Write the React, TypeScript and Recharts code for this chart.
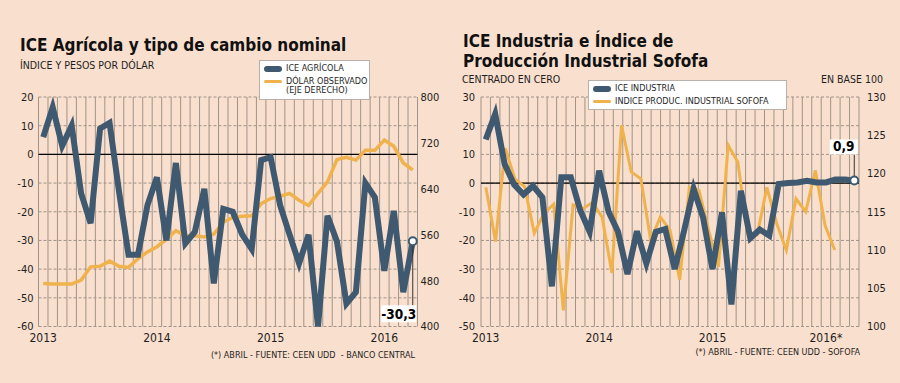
import React from "react";
import {
  LineChart,
  Line,
  XAxis,
  YAxis,
  CartesianGrid,
  ReferenceLine,
  Legend,
} from "recharts";

const BG = "#f9dfcd";
const BLUE = "#3f5a70";
const ORANGE = "#f0b24c";
const GRID = "#a09389";
const INK = "#1e1e1e";
const FONT = "'DejaVu Sans Condensed', 'DejaVu Sans', sans-serif";

// meses: ene 2013 .. abr 2016
const months = [
  "2013-01", "2013-02", "2013-03", "2013-04", "2013-05", "2013-06",
  "2013-07", "2013-08", "2013-09", "2013-10", "2013-11", "2013-12",
  "2014-01", "2014-02", "2014-03", "2014-04", "2014-05", "2014-06",
  "2014-07", "2014-08", "2014-09", "2014-10", "2014-11", "2014-12",
  "2015-01", "2015-02", "2015-03", "2015-04", "2015-05", "2015-06",
  "2015-07", "2015-08", "2015-09", "2015-10", "2015-11", "2015-12",
  "2016-01", "2016-02", "2016-03", "2016-04",
];

const agroYearLabels = ["2013", "2014", "2015", "2016"];
const indYearLabels = ["2013", "2014", "2015", "2016*"];

const agroTicks = [-60, -50, -40, -30, -20, -10, 0, 10, 20];
const dolarTicks = [400, 480, 560, 640, 720, 800];
const indTicks = [-50, -40, -30, -20, -10, 0, 10, 20, 30];
const sofofaTicks = [100, 105, 110, 115, 120, 125, 130];

// ICE Agrícola (eje izq.)
const iceAgricola = [
  6, 16.4, 3, 10, -13.6, -24, 9, 11, -13, -35, -35, -17.7,
  -8, -30, -3, -31, -27, -12, -45, -19, -20, -28, -33, -2,
  -1, -17.7, -28, -38, -28, -60, -21.4, -30.4, -52, -48, -10, -15,
  -40.6, -19.7, -48, -30.3,
];

// Dólar observado (eje der.)
const dolarObservado = [
  475, 474, 474, 474, 481, 504, 505, 514, 505, 503, 518, 530,
  539, 552, 567, 558, 558, 556, 561, 582, 590, 592, 593, 614,
  623, 627, 632, 620, 611, 632, 652, 691, 695, 690, 707, 707,
  725, 714, 685, 673,
];

// ICE Industria (eje izq.)
const iceIndustria = [
  15.2, 24.1, 6.6, -0.5, -4, -1, -5, -36, 2, 2, -9.5, -17,
  4.3, -10, -17, -31.7, -16.8, -28, -17, -16, -30, -16.5, -2, -12,
  -30, -10.2, -42.3, -2.7, -19.2, -16.2, -18.3, -0.3, 0, 0.2, 0.8, 0.2,
  0.2, 1.2, 1.2, 0.9,
];

// Índice de producción industrial Sofofa (eje der., base 100)
const sofofa = [
  118.2, 111.1, 123.3, 119.3, 118.3, 112.2, 114.8, 116, 102.1, 115.9, 115.4, 116.2,
  114.3, 107, 126.3, 120.2, 119.3, 111.3, 114.3, 112.6, 106.1, 118.2, 117.8, 112.5,
  107.8, 123.7, 121.5, 112.2, 112, 118.2, 113.5, 110, 116.7, 115, 120.4, 113.2,
  110,
];

const yearStarts = months
  .map((m, i) => (m.endsWith("-01") ? i : -1))
  .filter((i) => i >= 0);
const monthEdges = [...months.map((_, i) => i - 0.5), months.length - 0.5];

const agroRows = months.map((mes, i) => ({
  i,
  mes,
  ice: iceAgricola[i],
  dolar: dolarObservado[i],
}));
const indRows = months.map((mes, i) => ({ i, mes, ice: iceIndustria[i] }));
const sofofaRows = sofofa.map((v, k) => ({ k, mes: months[k], sofofa: v }));

const tickStyle = { fill: INK, fontSize: 11, fontFamily: FONT };
const yearTickStyle = { fill: INK, fontSize: 12, fontFamily: FONT };

const fmt = (v: number) => String(v).replace(".", ",");

// punto final con etiqueta del último valor
const endDot = (lastIndex: number, below: boolean) => (props: any) => {
  const { cx, cy, index, value } = props;
  if (index !== lastIndex || cx == null || cy == null) return <g key={`d${index}`} />;
  const w = below ? 35 : 28;
  const h = below ? 17 : 15;
  const bx = cx + 3.5 - w;
  const by = below ? cy + 64 : cy - 41;
  return (
    <g key={`d${index}`}>
      <line
        x1={cx}
        x2={cx}
        y1={below ? cy + 4 : by + h}
        y2={below ? by : cy - 4}
        stroke="#333"
        strokeWidth={1}
      />
      <rect x={bx} y={by} width={w} height={h} fill="#fff" />
      <text
        x={bx + w / 2}
        y={by + h - 3.5}
        textAnchor="middle"
        fontFamily={FONT}
        fontWeight="bold"
        fontSize={13.5}
        fill="#000"
      >
        {fmt(value)}
      </text>
      <circle cx={cx} cy={cy} r={4} fill="#fff" stroke={BLUE} strokeWidth={2} />
    </g>
  );
};

const legendContent = (order: string[], rowGap: number) => (props: any) => {
  const items = [...(props.payload || [])].sort(
    (a: any, b: any) => order.indexOf(a.value) - order.indexOf(b.value)
  );
  return (
    <div
      style={{
        background: "#fff",
        border: "1px solid #b9b0aa",
        padding: "3px 4px",
        fontFamily: FONT,
        fontSize: 9,
        color: INK,
        lineHeight: "9.5px",
      }}
    >
      {items.map((it: any, n: number) => {
        const sw = it.payload?.strokeWidth ?? 3;
        return (
          <div
            key={it.value}
            style={{ display: "flex", alignItems: "flex-start", marginTop: n ? rowGap : 0 }}
          >
            <div style={{ width: 22, height: 9.5, position: "relative", flex: "none" }}>
              <div
                style={{
                  position: "absolute",
                  left: 0,
                  width: 18,
                  top: 4.75 - sw / 2,
                  height: sw,
                  borderRadius: sw / 2,
                  background: it.color,
                }}
              />
            </div>
            <div style={{ whiteSpace: "pre" }}>{it.value.replace(" (", "\n(")}</div>
          </div>
        );
      })}
    </div>
  );
};

function AgroChart() {
  return (
    <LineChart
      width={450}
      height={383}
      data={agroRows}
      margin={{ top: 97, right: 0, bottom: 36.5, left: 0 }}
    >
      <CartesianGrid xAxisId="m" yAxisId="l" vertical={false} stroke={GRID} strokeDasharray="3 2" />
      {monthEdges.map((e) => (
        <ReferenceLine key={e} xAxisId="m" yAxisId="l" x={e} stroke={GRID} strokeWidth={1} />
      ))}
      <ReferenceLine xAxisId="m" yAxisId="l" y={0} stroke="#000" strokeWidth={1.2} />
      <XAxis
        xAxisId="m"
        type="number"
        dataKey="i"
        domain={[-0.5, months.length - 0.5]}
        ticks={yearStarts}
        interval={0}
        tickFormatter={(v) => agroYearLabels[yearStarts.indexOf(v)]}
        axisLine={false}
        tickLine={false}
        tickSize={5}
        tickMargin={2}
        height={20}
        tick={yearTickStyle}
      />
      <YAxis
        yAxisId="l"
        domain={[-60, 20]}
        ticks={agroTicks}
        interval={0}
        width={38.5}
        axisLine={false}
        tickLine={false}
        tickSize={3}
        tickMargin={2}
        tick={tickStyle}
      />
      <YAxis
        yAxisId="r"
        orientation="right"
        domain={[400, 800]}
        ticks={dolarTicks}
        interval={0}
        width={32.5}
        axisLine={false}
        tickLine={false}
        tickSize={1}
        tickMargin={2}
        tick={tickStyle}
      />
      <Legend
        layout="vertical"
        align="center"
        verticalAlign="middle"
        wrapperStyle={{ left: 259, top: 60, width: 111 }}
        content={legendContent(["ICE AGRÍCOLA", "DÓLAR OBSERVADO (EJE DERECHO)"], 3)}
      />
      <Line
        xAxisId="m"
        yAxisId="r"
        type="linear"
        dataKey="dolar"
        name="DÓLAR OBSERVADO (EJE DERECHO)"
        stroke={ORANGE}
        strokeWidth={3.5}
        dot={false}
        activeDot={false}
        isAnimationActive={false}
      />
      <Line
        xAxisId="m"
        yAxisId="l"
        type="linear"
        dataKey="ice"
        name="ICE AGRÍCOLA"
        stroke={BLUE}
        strokeWidth={6}
        dot={endDot(months.length - 1, true)}
        activeDot={false}
        isAnimationActive={false}
      />
    </LineChart>
  );
}

function IndustriaChart() {
  return (
    <LineChart
      width={450}
      height={383}
      data={indRows}
      margin={{ top: 97, right: 0, bottom: 36.5, left: 0 }}
    >
      <CartesianGrid xAxisId="m" yAxisId="l" vertical={false} stroke={GRID} strokeDasharray="3 2" />
      {monthEdges.map((e) => (
        <ReferenceLine key={e} xAxisId="m" yAxisId="l" x={e} stroke={GRID} strokeWidth={1} />
      ))}
      <ReferenceLine xAxisId="m" yAxisId="l" y={0} stroke="#000" strokeWidth={1.2} />
      <XAxis
        xAxisId="m"
        type="number"
        dataKey="i"
        domain={[-0.5, months.length - 0.5]}
        ticks={yearStarts}
        interval={0}
        tickFormatter={(v) => indYearLabels[yearStarts.indexOf(v)]}
        axisLine={false}
        tickLine={false}
        tickSize={5}
        tickMargin={2}
        height={20}
        tick={yearTickStyle}
      />
      <XAxis xAxisId="s" type="number" dataKey="k" domain={[-0.5, 38.5]} hide />
      <YAxis
        yAxisId="l"
        domain={[-50, 30]}
        ticks={indTicks}
        interval={0}
        width={31}
        axisLine={false}
        tickLine={false}
        tickSize={4}
        tickMargin={2}
        tick={tickStyle}
      />
      <YAxis
        yAxisId="r"
        orientation="right"
        domain={[100, 130]}
        ticks={sofofaTicks}
        interval={0}
        width={41}
        axisLine={false}
        tickLine={false}
        tickSize={6}
        tickMargin={2}
        tick={tickStyle}
      />
      <Legend
        layout="vertical"
        align="center"
        verticalAlign="middle"
        wrapperStyle={{ left: 138, top: 80, width: 199 }}
        content={legendContent(["ICE INDUSTRIA", "INDICE PRODUC. INDUSTRIAL SOFOFA"], 3)}
      />
      <Line
        data={sofofaRows}
        xAxisId="s"
        yAxisId="r"
        type="linear"
        dataKey="sofofa"
        name="INDICE PRODUC. INDUSTRIAL SOFOFA"
        stroke={ORANGE}
        strokeWidth={3}
        dot={false}
        activeDot={false}
        isAnimationActive={false}
      />
      <Line
        xAxisId="m"
        yAxisId="l"
        type="linear"
        dataKey="ice"
        name="ICE INDUSTRIA"
        stroke={BLUE}
        strokeWidth={6}
        dot={endDot(months.length - 1, false)}
        activeDot={false}
        isAnimationActive={false}
      />
    </LineChart>
  );
}

export default function App() {
  const title = { fontFamily: FONT, fontWeight: "bold" as const, fontSize: 17, fill: "#111" };
  const sub = { fontFamily: FONT, fontSize: 10.5, fill: INK };
  const note = { whiteSpace: "pre" as const };
  return (
    <div
      style={{
        position: "absolute",
        left: 0,
        top: 0,
        width: 900,
        height: 383,
        background: BG,
        overflow: "hidden",
      }}
    >
      <svg width={900} height={383} style={{ position: "absolute", left: 0, top: 0 }}>
        <text x={20} y={50.5} {...title}>ICE Agrícola y tipo de cambio nominal</text>
        <text x={20} y={69} {...sub}>ÍNDICE Y PESOS POR DÓLAR</text>
        <text x={463} y={46.5} {...title}>ICE Industria e Índice de</text>
        <text x={463} y={66.5} {...title}>Producción Industrial Sofofa</text>
        <text x={462} y={83} {...sub}>CENTRADO EN CERO</text>
        <text x={883} y={83} textAnchor="end" {...sub}>EN BASE 100</text>
        <text x={415} y={357.5} textAnchor="end" style={note} fontFamily={FONT} fontSize={9} fill={INK}>
          {"(*) ABRIL - FUENTE: CEEN UDD  - BANCO CENTRAL"}
        </text>
        <text x={860} y={355} textAnchor="end" style={note} fontFamily={FONT} fontSize={9} fill={INK}>
          {"(*) ABRIL - FUENTE: CEEN UDD - SOFOFA"}
        </text>
      </svg>
      <div style={{ position: "absolute", left: 0, top: 0 }}>
        <AgroChart />
      </div>
      <div style={{ position: "absolute", left: 450, top: 0 }}>
        <IndustriaChart />
      </div>
    </div>
  );
}
